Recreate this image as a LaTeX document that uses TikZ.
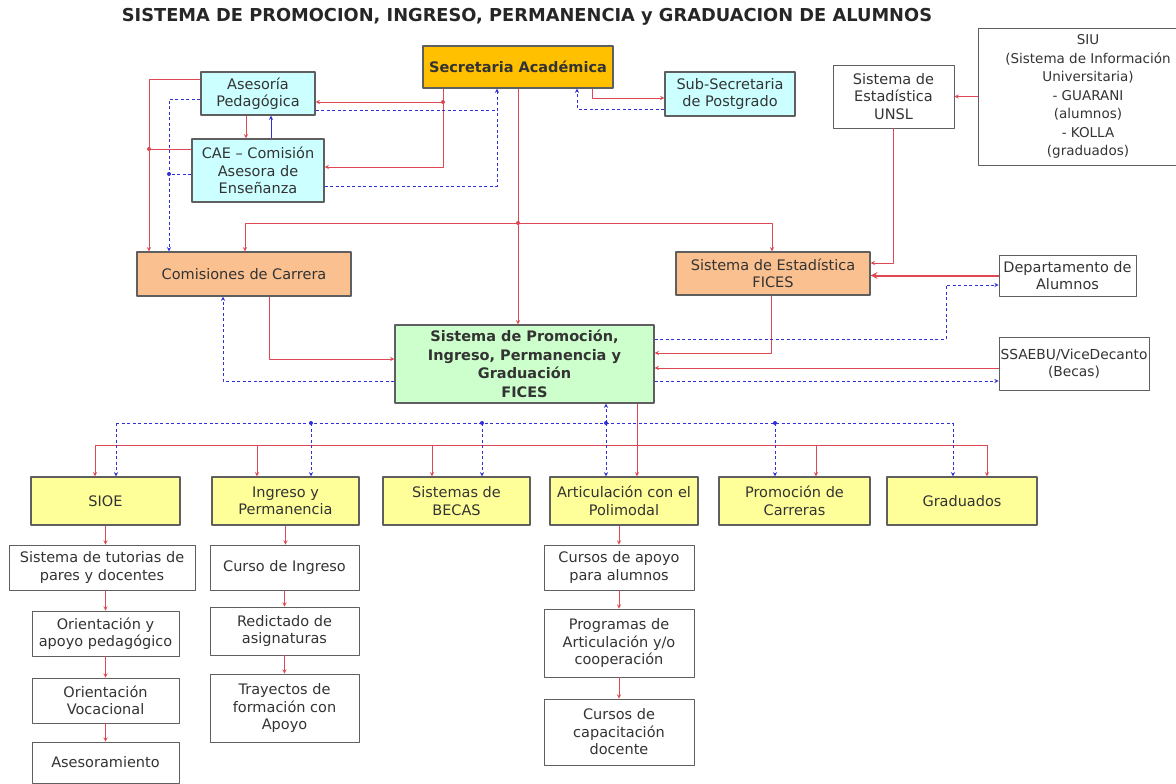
\documentclass[tikz,border=0pt]{standalone}
\usepackage{fontspec}
\setmainfont{DejaVu Sans}
\definecolor{rojo}{RGB}{222,72,82}
\definecolor{azul}{RGB}{48,48,215}
\definecolor{oro}{RGB}{255,192,0}
\definecolor{celeste}{RGB}{204,255,255}
\definecolor{naranja}{RGB}{250,192,144}
\definecolor{verde}{RGB}{204,255,204}
\definecolor{amarillo}{RGB}{255,255,153}
\definecolor{borde}{RGB}{95,95,95}
\tikzset{
  caja/.style={draw=borde,line width=0.8pt,align=center,inner sep=1pt,text=black!80,font=\fontsize{14.5}{17.5}\selectfont},
  cajacol/.style={caja,line width=1.3pt},
  negrita/.style={font=\fontsize{14.5}{18.5}\selectfont\bfseries},
  ra/.style={draw=rojo,line width=0.9pt,->},
  rl/.style={draw=rojo,line width=0.9pt},
  ba/.style={draw=azul,line width=0.9pt,dash pattern=on 3pt off 2.5pt,->},
  bl/.style={draw=azul,line width=0.9pt,dash pattern=on 3pt off 2.5pt}
}
\begin{document}
\begin{tikzpicture}[x=1pt,y=-1pt,>=stealth,line join=round]
\useasboundingbox (0,0) rectangle (1176,784);
\node[font=\fontsize{17.8}{20}\selectfont\bfseries,text=black!85] (titulo) at (527,17) {SISTEMA DE PROMOCION, INGRESO, PERMANENCIA y GRADUACION DE ALUMNOS};
% nivel superior
\node[cajacol,fill=oro,minimum width=190,minimum height=42,negrita] (sec) at (518,67) {Secretaria Académica};
\node[cajacol,fill=celeste,minimum width=114,minimum height=43] (ase) at (258,93.5) {Asesoría\\Pedagógica};
\node[cajacol,fill=celeste,minimum width=132,minimum height=63] (cae) at (258,170.5) {CAE -- Comisión\\Asesora de\\Enseñanza};
\node[cajacol,fill=celeste,minimum width=130,minimum height=44] (sub) at (730,94) {Sub-Secretaria\\de Postgrado};
\node[caja,minimum width=121,minimum height=63] (unsl) at (893.5,96.5) {Sistema de\\Estadística\\UNSL};
\node[caja,minimum width=219,minimum height=137,font=\fontsize{13.5}{18.5}\selectfont] (siu) at (1088,96.5) {SIU\\(Sistema de Información\\Universitaria)\\- GUARANI\\(alumnos)\\- KOLLA\\(graduados)};
% nivel medio
\node[cajacol,fill=naranja,minimum width=214,minimum height=44] (com) at (244,274) {Comisiones de Carrera};
\node[cajacol,fill=naranja,minimum width=194,minimum height=43] (est) at (773,273.5) {Sistema de Estadística\\FICES};
\node[caja,minimum width=137,minimum height=41] (dep) at (1067.5,275.5) {Departamento de\\Alumnos};
\node[cajacol,fill=verde,minimum width=259,minimum height=78,negrita] (main) at (524.5,364) {Sistema de Promoción,\\Ingreso, Permanencia y\\Graduación\\FICES};
\node[caja,minimum width=150,minimum height=53,font=\fontsize{13.8}{17.5}\selectfont] (ssa) at (1074,363.5) {SSAEBU/ViceDecanto\\(Becas)};
% programas
\node[cajacol,fill=amarillo,minimum width=149,minimum height=48] (sioe) at (105.5,501) {SIOE};
\node[cajacol,fill=amarillo,minimum width=147,minimum height=48] (ing) at (285.5,501) {Ingreso y\\Permanencia};
\node[cajacol,fill=amarillo,minimum width=147,minimum height=48] (bec) at (456.5,501) {Sistemas de\\BECAS};
\node[cajacol,fill=amarillo,minimum width=148,minimum height=48] (art) at (624,501) {Articulación con el\\Polimodal};
\node[cajacol,fill=amarillo,minimum width=151,minimum height=48] (pro) at (794.5,501) {Promoción de\\Carreras};
\node[cajacol,fill=amarillo,minimum width=150,minimum height=48] (gra) at (962,501) {Graduados};
% acciones
\node[caja,minimum width=186,minimum height=45] (tut) at (102,567.5) {Sistema de tutorias de\\pares y docentes};
\node[caja,minimum width=147,minimum height=45] (ori) at (105.5,633.5) {Orientación y\\apoyo pedagógico};
\node[caja,minimum width=147,minimum height=45] (voc) at (105.5,700.5) {Orientación\\Vocacional};
\node[caja,minimum width=147,minimum height=41] (asm) at (105.5,762.5) {Asesoramiento};
\node[caja,minimum width=149,minimum height=45] (cur) at (284.5,567.5) {Curso de Ingreso};
\node[caja,minimum width=149,minimum height=48] (red) at (284.5,631) {Redictado de\\asignaturas};
\node[caja,minimum width=149,minimum height=68] (tra) at (284.5,708) {Trayectos de\\formación con\\Apoyo};
\node[caja,minimum width=150,minimum height=45] (cap) at (619,567.5) {Cursos de apoyo\\para alumnos};
\node[caja,minimum width=150,minimum height=68] (prog) at (619,643) {Programas de\\Articulación y/o\\cooperación};
\node[caja,minimum width=150,minimum height=66] (doc) at (619,732) {Cursos de\\capacitación\\docente};
% puntos de union
\coordinate (jA) at (443,102); \coordinate (jB) at (443,167);
\coordinate (jC) at (149,79); \coordinate (jD) at (149,149);
\coordinate (jE) at (169,99); \coordinate (jF) at (169,174);
\coordinate (jG) at (497,110); \coordinate (jH) at (497,186);
\coordinate (jI) at (592,98); \coordinate (jJ) at (577,109);
\coordinate (jK) at (518,223); \coordinate (jL) at (245,223); \coordinate (jM) at (772,223);
\coordinate (jO) at (893,263); \coordinate (jP) at (771,353);
\coordinate (jQ) at (946,339); \coordinate (jR) at (946,285);
\coordinate (jS) at (800,368); \coordinate (jT) at (800,381);
\coordinate (jU) at (269,359); \coordinate (jV) at (223,381);
\coordinate (jW) at (637,445); \coordinate (jX) at (95,445); \coordinate (jY) at (987,445);
\coordinate (jZ) at (606,423); \coordinate (bX) at (116,423); \coordinate (bY) at (953,423);
% Secretaria y asesorias
\draw[ra] (sec.south -| jA)--(jB)--(cae.east |- jB);
\draw[ra] (jA)--(ase.east |- jA);
\draw[ra] ([xshift=-12]ase.south)--([xshift=-12]ase.south |- cae.north);
\draw[draw=azul,line width=0.9pt,->] ([xshift=13]cae.north)--([xshift=13]cae.north |- ase.south);
\draw[ra] (ase.west |- jC)--(jC)--(com.north -| jC);
\draw[rl] (cae.west |- jD)--(jD);
\draw[ba] (ase.west |- jE)--(jE)--(com.north -| jE);
\draw[bl] (cae.west |- jF)--(jF);
\draw[ba] (cae.east |- jH)--(jH)--(sec.south -| jH);
\draw[bl] (ase.east |- jG)--(jG);
\draw[ra] (sec.south -| jI)--(jI)--(sub.west |- jI);
\draw[ba] (sub.west |- jJ)--(jJ)--(sec.south -| jJ);
% eje central
\draw[ra] (sec.south)--(main.north -| sec.south);
\draw[ra] (jK)--(jL)--(com.north -| jL);
\draw[ra] (jK)--(jM)--(est.north -| jM);
\draw[ra] (siu.west |- unsl.east)--(unsl.east);
\draw[ra] (unsl.south -| jO)--(jO)--(est.east |- jO);
\draw[ra,line width=2pt] (dep.west)--(est.east |- dep.west);
\draw[ra] (est.south -| jP)--(jP)--(main.east |- jP);
\draw[ra] (ssa.west |- jS)--(main.east |- jS);
\draw[ba] (main.east |- jQ)--(jQ)--(jR)--(dep.west |- jR);
\draw[ba] (main.east |- jT)--(ssa.west |- jT);
\draw[ra] (com.south -| jU)--(jU)--(main.west |- jU);
\draw[ba] (main.west |- jV)--(jV)--(com.south -| jV);
% buses inferiores
\draw[ra] (main.south -| jW)--(art.north -| jW);
\draw[rl] (jX)--(jY);
\foreach \x/\n in {95/sioe,257/ing,432/bec,816/pro,987/gra}
  \draw[ra] (\x,445)--(\n.north -| \x,445);
\draw[bl] (bX)--(bY);
\draw[ba] (jZ)--(main.south -| jZ);
\foreach \x/\n in {116/sioe,311/ing,482/bec,606/art,775/pro,953/gra}
  \draw[ba] (\x,423)--(\n.north -| \x,423);
% columnas
\draw[ra] (sioe.south)--(tut.north -| sioe.south);
\draw[ra] (tut.south -| ori.north)--(ori.north);
\draw[ra] (ori)--(voc); \draw[ra] (voc)--(asm);
\draw[ra] (ing.south)--(cur.north -| ing.south);
\draw[ra] (cur)--(red); \draw[ra] (red)--(tra);
\draw[ra] (art.south -| cap.south)--(cap.north);
\draw[ra] (cap)--(prog); \draw[ra] (prog)--(doc);
% nodos de union
\foreach \p in {jA,jD,jK} \fill[rojo] (\p) circle (2pt);
\foreach \p in {jF} \fill[azul] (\p) circle (2pt);
\foreach \x in {311,482,606,775} \fill[azul] (\x,423) circle (2pt);
\end{tikzpicture}
\end{document}
